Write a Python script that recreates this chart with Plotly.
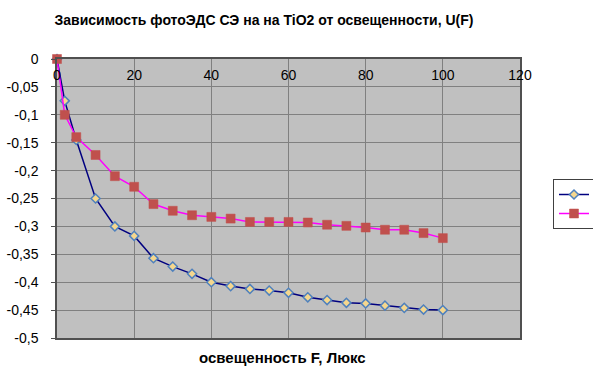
import plotly.graph_objects as go

x_f = [0, 2, 5, 10, 15, 20, 25, 30, 35, 40, 45, 50, 55, 60, 65, 70, 75, 80, 85, 90, 95, 100]
u_series1 = [0, -0.075, -0.145, -0.25, -0.30, -0.317, -0.357, -0.372, -0.385, -0.400, -0.407, -0.412,
             -0.415, -0.419, -0.427, -0.432, -0.437, -0.438, -0.442, -0.446, -0.449, -0.450]
u_series2 = [0, -0.100, -0.140, -0.172, -0.210, -0.229, -0.260, -0.272, -0.280, -0.283, -0.286, -0.292,
             -0.292, -0.292, -0.293, -0.297, -0.299, -0.302, -0.306, -0.306, -0.312, -0.321]
# legend labels are off-screen in the reference (the box is cut by the right edge)
series_names = ["\u00a0" * 10, "\u00a0" * 10]

y_tickvals = [0, -0.05, -0.1, -0.15, -0.2, -0.25, -0.3, -0.35, -0.4, -0.45, -0.5]
y_ticktext = ["0", "-0,05", "-0,1", "-0,15", "-0,2", "-0,25", "-0,3", "-0,35", "-0,4", "-0,45", "-0,5"]
x_tickvals = [0, 20, 40, 60, 80, 100, 120]
x_ticktext = ["0", "20", "40", "60", "80", "100", "120"]

title_text = "Зависимость фотоЭДС СЭ на на TiO2 от освещенности, U(F)"
xaxis_title = "освещенность F, Люкс"

FONT = "Liberation Sans, Arial, sans-serif"

fig = go.Figure()
fig.add_trace(go.Scatter(
    x=x_f, y=u_series1, name=series_names[0], mode="lines+markers",
    line=dict(color="#000080", width=1.5),
    marker=dict(symbol="diamond", size=7, color="#f5d78e",
                line=dict(color="#4f81bd", width=1.5)),
    cliponaxis=False,
))
fig.add_trace(go.Scatter(
    x=x_f, y=u_series2, name=series_names[1], mode="lines+markers",
    xaxis="x2", yaxis="y",
    line=dict(color="#ff00ff", width=1.5),
    marker=dict(symbol="square", size=9, color="#c0504d",
                line=dict(color="#c0504d", width=0.5)),
    cliponaxis=False,
))

fig.update_layout(
    width=593, height=376,
    margin=dict(l=57, r=73, t=59, b=38, autoexpand=False),
    paper_bgcolor="white",
    plot_bgcolor="#c0c0c0",
    font=dict(family=FONT, size=14, color="black"),
    title=dict(text="<b>" + title_text + "</b>", x=0.447, xref="paper", xanchor="center",
               y=1 - 20 / 376, yref="container", yanchor="middle",
               font=dict(size=14, family=FONT)),
    showlegend=True,
    legend=dict(x=(553 - 57) / 463, y=(338 - 179) / 279, xanchor="left", yanchor="top",
                xref="paper", yref="paper",
                bgcolor="white", bordercolor="#404040", borderwidth=1,
                font=dict(size=12, family=FONT), tracegroupgap=0),
    xaxis=dict(
        range=[0, 120], side="top",
        tickvals=x_tickvals, showticklabels=False,
        showgrid=True, gridcolor="#808080", gridwidth=1,
        showline=True, linecolor="#505050", linewidth=1.5, mirror=True,
        ticks="", zeroline=False,
    ),
    xaxis2=dict(
        range=[0, 120], overlaying="x", anchor="free", position=1, side="bottom",
        tickvals=x_tickvals, ticktext=x_ticktext,
        showgrid=False, showline=False, ticks="", zeroline=False,
        ticklabelstandoff=6,
        tickfont=dict(size=14, family=FONT, color="black"),
    ),
    yaxis=dict(
        range=[-0.5, 0],
        tickvals=y_tickvals, ticktext=y_ticktext,
        showgrid=True, gridcolor="#808080", gridwidth=1,
        showline=True, linecolor="#505050", linewidth=1.5, mirror=True,
        ticks="outside", ticklen=4, tickcolor="#505050",
        ticklabelstandoff=10,
        zeroline=False,
        tickfont=dict(size=14, family=FONT),
    ),
    annotations=[dict(
        text="<b>" + xaxis_title + "</b>", x=0.487, y=-19 / 279, xref="paper", yref="paper",
        xanchor="center", yanchor="middle", showarrow=False,
        font=dict(size=15, family=FONT),
    )],
)

fig.write_html("out.html")
